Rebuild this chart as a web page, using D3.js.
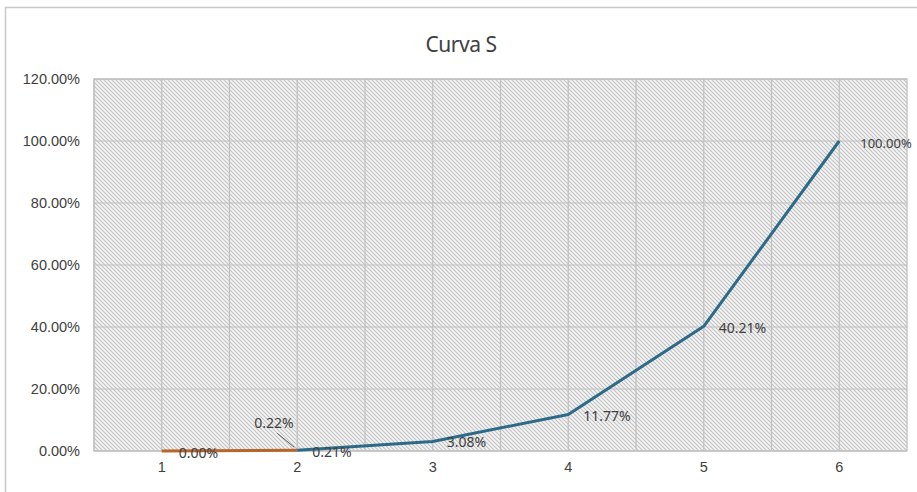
<!DOCTYPE html>
<html><head><meta charset="utf-8">
<script src="https://cdn.jsdelivr.net/npm/d3@7"></script>
<style>body{margin:0;background:#fff;}svg{display:block;font-family:"Noto Sans",sans-serif;}</style>
</head><body><svg id="c" width="917" height="492"></svg>
<script>
const categories = ["1","2","3","4","5","6"];
const seriesBlue = [null, 0.0021, 0.0308, 0.1177, 0.4021, 1.0];
const seriesOrange = [0.0, 0.0022, null, null, null, null];
const blueLabels = [null, "0.21%", "3.08%", "11.77%", "40.21%", "100.00%"];
const orangeLabels = ["0.00%", "0.22%", null, null, null, null];
const yTicks = [0, 0.2, 0.4, 0.6, 0.8, 1.0, 1.2];
const title = "Curva S";

const svg = d3.select("#c");
const m = {l:94, r:907, t:79, b:451};
// outer border
svg.append("rect").attr("x",5.5).attr("y",7.5).attr("width",930).attr("height",500)
  .attr("fill","#fff").attr("stroke","#c8c8c8").attr("stroke-width",1.5);

const defs = svg.append("defs");
const pat = defs.append("pattern").attr("id","hatch").attr("patternUnits","userSpaceOnUse")
  .attr("width",4).attr("height",4);
pat.append("rect").attr("width",4).attr("height",4).attr("fill","#f5f5f5");
pat.append("path").attr("d","M0,0 L4,4 M-1,3 L1,5 M3,-1 L5,1")
  .attr("stroke","#c2c2c2").attr("stroke-width",1.1);

const x = d3.scaleBand().domain(categories).range([m.l, m.r]);
const xc = d => x(d) + x.bandwidth()/2;
const y = d3.scaleLinear().domain([0,1.2]).range([m.b, m.t]);

svg.append("rect").attr("x",m.l).attr("y",m.t).attr("width",m.r-m.l).attr("height",m.b-m.t)
  .attr("fill","url(#hatch)");

// gridlines
const g = svg.append("g");
yTicks.forEach(t => g.append("line").attr("x1",m.l).attr("x2",m.r).attr("y1",y(t)).attr("y2",y(t))
  .attr("stroke","#c0c0c0").attr("stroke-width",1.2));
categories.forEach(c => {
  [x(c), xc(c)].forEach(px => g.append("line").attr("x1",px).attr("x2",px).attr("y1",m.t).attr("y2",m.b)
    .attr("stroke","#c0c0c0").attr("stroke-width",1.2));
});
svg.append("rect").attr("x",m.l).attr("y",m.t).attr("width",m.r-m.l).attr("height",m.b-m.t)
  .attr("fill","none").attr("stroke","#bdbdbd").attr("stroke-width",1.2);

// axes
const yAxis = d3.axisLeft(y).tickValues(yTicks).tickFormat(d3.format(".2%")).tickSize(0).tickPadding(14);
const ya = svg.append("g").attr("transform",`translate(${m.l},0)`).call(yAxis);
ya.select(".domain").remove();
ya.selectAll("text").attr("font-size",14.5).attr("fill","#404040");

const xAxis = d3.axisBottom(x).tickSize(0).tickPadding(11);
const xa = svg.append("g").attr("transform",`translate(0,${m.b})`).call(xAxis);
xa.select(".domain").remove();
xa.selectAll("text").attr("font-size",14.5).attr("fill","#404040");

// lines
const line = d3.line().defined(d => d.v != null).x(d => xc(d.c)).y(d => y(d.v));
const blue = categories.map((c,i) => ({c, v: seriesBlue[i]}));
const orange = categories.map((c,i) => ({c, v: seriesOrange[i]}));
svg.append("path").datum(orange).attr("d",line).attr("fill","none").attr("stroke","#b8652a").attr("stroke-width",3);
svg.append("path").datum(blue).attr("d",line).attr("fill","none").attr("stroke","#2c6a8a").attr("stroke-width",3)
  .attr("stroke-linejoin","round");

// labels
const lab = svg.append("g").attr("font-size",14).attr("fill","#404040");
const blueOff = [null, [15,7], [14,6], [15,6], [15,7], [21,7]];
blue.forEach((d,i) => { if (blueLabels[i]) {
  lab.append("text").attr("x", xc(d.c)+blueOff[i][0]).attr("y", y(d.v)+blueOff[i][1])
    .attr("font-size", i === 5 ? 13 : 14).text(blueLabels[i]);
}});
lab.append("text").attr("x", xc(categories[0])+17).attr("y", y(seriesOrange[0])+7).text(orangeLabels[0]);
lab.append("text").attr("x", xc(categories[1])-43).attr("y", y(seriesOrange[1])-22).text(orangeLabels[1]);
svg.append("line").attr("x1", xc(categories[1])-20).attr("y1", y(seriesOrange[1])-17)
  .attr("x2", xc(categories[1])-3).attr("y2", y(seriesOrange[1])-3).attr("stroke","#595959").attr("stroke-width",1);

svg.append("text").attr("x",461).attr("y",52).attr("text-anchor","middle").attr("font-size",21)
  .attr("fill","#404040").attr("letter-spacing",-0.5).text(title);
</script></body></html>
